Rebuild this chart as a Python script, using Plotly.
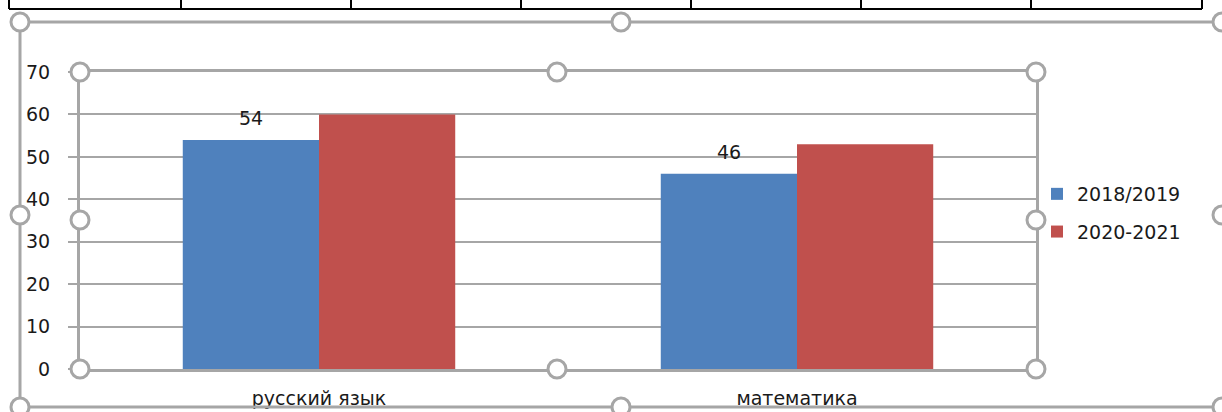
import plotly.graph_objects as go

categories = ["русский язык", "математика"]
series_names = ["2018/2019", "2020-2021"]
values_2018 = [54, 46]
values_2020 = [60, 53]
y_ticks = [0, 10, 20, 30, 40, 50, 60, 70]

BLUE = "#4F81BD"
RED = "#C0504D"
GRAY = "#a6a6a6"
FONT = "DejaVu Sans"
TXT = "#1a1a1a"

W, H = 1222, 412
L, R, T, B = 80, 1036, 72, 369


def px(x):
    return (x - L) / (R - L)


def py(y):
    return (B - y) / (B - T)


fig = go.Figure()
fig.add_trace(go.Bar(name=series_names[0], x=categories, y=values_2018,
                     marker=dict(color=BLUE, line=dict(width=0)),
                     legendgroup="a"))
fig.add_trace(go.Bar(name=series_names[1], x=categories, y=values_2020,
                     marker=dict(color=RED, line=dict(width=0)),
                     legendgroup="b"))

# data labels for the first series only
for c, v in zip(categories, values_2018):
    fig.add_annotation(x=c, y=v, xref="x", yref="y", text=str(v),
                       showarrow=False, xshift=-68, yshift=22,
                       font=dict(family=FONT, size=19, color=TXT))

shapes = []


def line(x0, y0, x1, y1, color, width):
    shapes.append(dict(type="line", xref="paper", yref="paper",
                       x0=px(x0), y0=py(y0), x1=px(x1), y1=py(y1),
                       line=dict(color=color, width=width)))


def handle(cx, cy, r=9):
    shapes.append(dict(type="circle", xref="paper", yref="paper",
                       x0=px(cx - r), y0=py(cy - r), x1=px(cx + r), y1=py(cy + r),
                       fillcolor="white", line=dict(color=GRAY, width=3)))


# table fragment at top
line(9, 9, 1202, 9, "black", 2)
for xv in [9, 181, 351, 521, 691, 861, 1031, 1202]:
    line(xv, -2, xv, 9, "black", 2)

# outer chart frame
line(20, 22, 1230, 22, GRAY, 3)
line(20, 22, 20, 420, GRAY, 3)
line(20, 407, 1230, 407, GRAY, 3)
for (hx, hy) in [(20, 22), (621, 22), (1222, 22), (20, 215), (1222, 215),
                 (20, 407), (621, 407), (1222, 407)]:
    handle(hx, hy)

# plot area handles
for (hx, hy) in [(L, T), (557, T), (R, T), (L, 220), (R, 220),
                 (L, B), (557, B), (R, B)]:
    handle(hx, hy)

fig.update_layout(
    width=W, height=H, autosize=False,
    margin=dict(l=L, r=W - R, t=T, b=H - B),
    paper_bgcolor="white", plot_bgcolor="white",
    barmode="group", bargap=0.43, bargroupgap=0,
    font=dict(family=FONT, size=19, color=TXT),
    showlegend=True,
    legend=dict(x=px(1037), y=py(175), xanchor="left", yanchor="top",
                traceorder="grouped", tracegroupgap=10,
                font=dict(family=FONT, size=19, color=TXT),
                bgcolor="rgba(0,0,0,0)"),
    shapes=shapes,
    xaxis=dict(showgrid=False, showline=True, linecolor=GRAY, linewidth=3,
               mirror=True, ticks="", automargin=False,
               ticklabelstandoff=10,
               tickfont=dict(family=FONT, size=19, color=TXT)),
    yaxis=dict(range=[0, 70], tickvals=y_ticks, showgrid=True,
               gridcolor=GRAY, gridwidth=2, zeroline=False,
               showline=True, linecolor=GRAY, linewidth=3, mirror=True,
               ticks="outside", ticklen=9, tickcolor=GRAY, tickwidth=2,
               ticklabelstandoff=14, automargin=False,
               tickfont=dict(family=FONT, size=19, color=TXT)),
)

fig.write_html(
    "out.html",
    config={"displayModeBar": False},
    post_script="document.body.style.margin='0';"
                "document.body.style.overflow='hidden';",
)
